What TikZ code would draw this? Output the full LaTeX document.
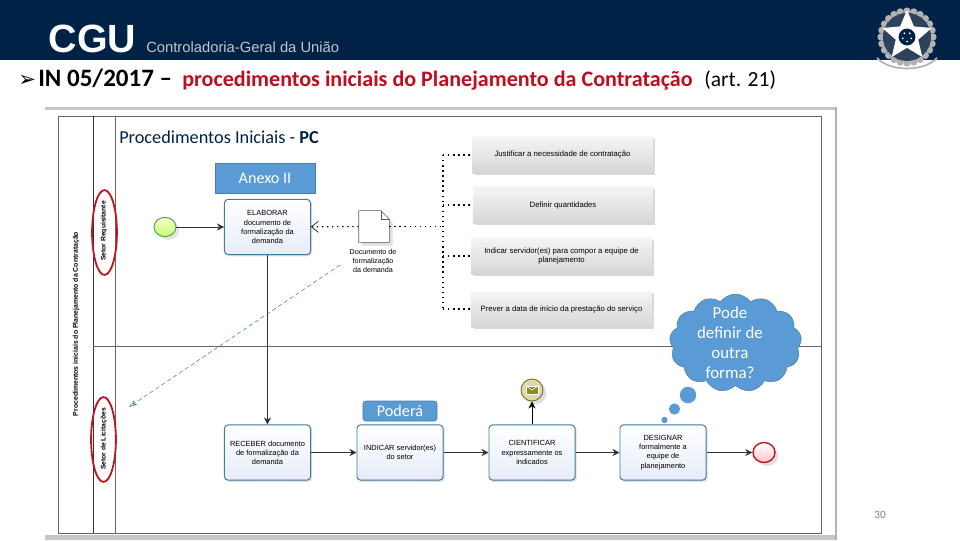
\documentclass[tikz,border=0pt]{standalone}
\usepackage{fontspec}
\setmainfont{Carlito}
\newfontfamily\taskfont{Liberation Sans}
\newfontfamily\arrowfont{DejaVu Sans}
\usetikzlibrary{arrows.meta,positioning,shapes.geometric,shapes.symbols,shadows}

\tikzset{
  taskbox/.style={draw=c3, line width=0.7pt, rounded corners=2.5pt, top color=white, bottom color=c4,
    minimum width=2.15cm, minimum height=1.38cm, align=center, inner sep=1pt,
    drop shadow={shadow xshift=1.2pt, shadow yshift=-1.2pt, opacity=0.25},
    font=\taskfont\fontsize{5.3}{6.5}\selectfont},
  notebox/.style={top color=gray!8, bottom color=gray!32, minimum width=4.5cm, minimum height=0.9cm,
    align=center, inner sep=1pt, drop shadow={shadow xshift=1.5pt, shadow yshift=-1.5pt, opacity=0.3},
    font=\taskfont\fontsize{5.5}{6.5}\selectfont},
  bluebox/.style={fill=c2, draw=c2!80!black, text=white, align=center, inner sep=0pt},
  lanemark/.style={draw=c5, line width=1.3pt, ellipse, minimum width=0.62cm, minimum height=2.12cm, inner sep=0pt},
  lanetext/.style={rotate=90, font=\taskfont\bfseries\fontsize{4.8}{6}\selectfont},
  dotline/.style={line width=0.8pt, dash pattern=on 1pt off 2.6pt},
  flow/.style={-{Stealth[length=5pt,width=5pt]}, line width=0.4pt, color=black!80}
}

\begin{document}
\begin{tikzpicture}[x=0.025cm, y=-0.025cm]
  \colorlet{c1}{white}
  \definecolor{c0}{HTML}{002247}
  \definecolor{c2}{HTML}{5B9BD5}
  \definecolor{c3}{HTML}{3F7C9E}
  \definecolor{c4}{HTML}{E6ECF8}
  \definecolor{c5}{HTML}{BE1622}
  \definecolor{c6}{HTML}{C00D1E}
  \useasboundingbox (0,0) rectangle (960,540);

  % Banner
  \fill[c0] (0,0) rectangle (960,60);
  \node[text=white, font=\taskfont\bfseries\fontsize{28}{28}\selectfont, inner sep=0pt] (cgu) at (92.5,39) {CGU};
  \node[text=gray!45, font=\taskfont\fontsize{10.5}{12}\selectfont, anchor=base west, inner sep=0pt]
    (cguname) at (146,52) {Controladoria-Geral da União};

  % Seal
  \foreach \a in {0,15,...,345} {
    \fill[gray!60] (907,37) ++(\a:26) circle (3.6);
  }
  \fill[gray!35!c0] (907,37) circle (24);
  \node[star, star points=5, star point ratio=2.2, fill=white, minimum size=1.3cm, inner sep=0pt] (sealstar) at (907,36) {};
  \node[circle, fill=c0, minimum size=0.42cm, inner sep=0pt] (sealdisc) at (907,37) {};
  \foreach \a in {90,162,234,306,18} {
    \fill[white] (907,37) ++(\a:4.5) circle (1);
  }
  \draw[gray!60, line width=1.2pt] (877,58) .. controls (890,72) and (924,72) .. (937,58);

  % Title
  \node[anchor=base west, inner sep=0pt, font=\arrowfont\fontsize{15}{16}\selectfont] (bullet) at (18,86) {➢};
  \node[anchor=base west, inner sep=0pt, font=\bfseries\fontsize{17.8}{18}\selectfont] (titlea) at (38,86) {IN 05/2017 –};
  \node[anchor=base west, inner sep=0pt, text=c6, font=\bfseries\fontsize{15.7}{18}\selectfont] (titleb) at (182,86)
    {procedimentos iniciais do Planejamento da Contratação};
  \node[anchor=base west, inner sep=0pt, font=\fontsize{15.3}{18}\selectfont] (titlec) at (704,86) {(art. 21)};

  % Panel and lanes
  \fill[gray!45] (45,107) rectangle (836,110);
  \fill[gray!45] (45,535) rectangle (836,540);
  \fill[gray!60] (835,107) rectangle (837,540);
  \draw[gray!80!black, line width=0.6pt] (58,116) rectangle (821,533);
  \draw[black!80, line width=0.5pt] (93,116) -- (93,533);
  \draw[gray!80!black, line width=0.7pt] (115,116) -- (115,533);
  \draw[gray!80!black, line width=0.7pt] (93,346) -- (821,346);

  \node[anchor=west, inner sep=0pt, text=c0, font=\fontsize{13}{14}\selectfont] (lanetitle) at (119,137)
    {Procedimentos Iniciais - \textbf{PC}};
  \node[lanetext, font=\taskfont\bfseries\fontsize{4.9}{6}\selectfont] (poolname) at (76,324)
    {Procedimentos iniciais do Planejamento da Contratação};
  \node[lanetext] (laneup) at (104,231) {Setor Requisitante};
  \node[lanetext] (lanedown) at (104,439) {Setor de Licitações};
  \node[lanemark] (markup) at (104.5,232.5) {};
  \node[lanemark] (markdown) at (103.5,439.5) {};

  % Top lane
  \node[bluebox, minimum width=2.5cm, minimum height=0.75cm, font=\fontsize{11.5}{12}\selectfont] (anexo) at (265,178) {Anexo II};
  \node[taskbox] (elaborar) at (267.5,227) {ELABORAR\\documento de\\formalização da\\demanda};
  \node[ellipse, draw=green!50!black!70, line width=0.7pt, top color=green!8!yellow!20, bottom color=green!45!yellow!55,
    minimum width=0.55cm, minimum height=0.48cm, inner sep=0pt, drop shadow={opacity=0.2}] (start) at (165,227) {};
  \draw[flow] (start) -- (elaborar);

  % Document
  \node[minimum width=0.75cm, minimum height=0.78cm, inner sep=0pt] (doc) at (374,226.5) {};
  \draw[gray!70!black, line width=0.4pt, fill=white, drop shadow={opacity=0.25}]
    (doc.north west) -- ([xshift=-6pt]doc.north east) -- ([yshift=-6pt]doc.north east) -- (doc.south east)
    -- (doc.south west) -- cycle;
  \draw[gray!70!black, line width=0.4pt] ([xshift=-6pt]doc.north east) |- ([yshift=-6pt]doc.north east);
  \node[align=center, inner sep=0pt, font=\taskfont\fontsize{5.1}{6.4}\selectfont] (doclabel) at (373,261)
    {Documento de\\formalização\\da demanda};
  \draw[dotline, -{Straight Barb[length=5pt,width=8pt,line width=0.4pt,sharp]}] (doc) -- (elaborar);

  % Notes
  \coordinate (fork) at (443,226.5);
  \draw[dotline] (doc) -- (fork);
  \foreach \nm/\x/\y/\txt in {
    just/562.5/155/Justificar a necessidade de contratação,
    quant/563/205/Definir quantidades,
    indic/561.5/256/Indicar servidor(es) para compor a equipe de\\planejamento,
    prever/561.5/309/Prever a data de início da prestação do serviço} {
    \node[notebox] (\nm) at (\x,\y) {\txt};
    \draw[dotline] (fork |- \nm) -- (\nm);
  }
  \draw[dotline] (fork |- just) -- (fork |- prever);

  % Bottom lane
  \node[taskbox] (receber) at (267.5,452.5) {RECEBER documento\\de formalização da\\demanda};
  \node[taskbox] (indicar) at (400,452.5) {INDICAR servidor(es)\\do setor};
  \node[taskbox] (cientificar) at (532,452.5) {CIENTIFICAR\\expressamente os\\indicados};
  \node[taskbox] (designar) at (663,452.5) {DESIGNAR\\formalmente a\\equipe de\\planejamento};
  \node[ellipse, draw=c5, line width=1pt, top color=white, bottom color=red!22, minimum width=0.55cm, minimum height=0.5cm,
    inner sep=0pt, drop shadow={opacity=0.25}] (finish) at (764,452.5) {};
  \node[circle, draw=olive!70!black, line width=0.6pt, fill=yellow!45!gray!55, minimum size=0.55cm, inner sep=0pt,
    drop shadow={opacity=0.25}] (msg) at (532,390) {};
  \node[draw=white, fill=olive!70!gray, minimum width=0.3cm, minimum height=0.2cm, inner sep=0pt] (letter) at (532,390) {};
  \draw[white, line width=0.4pt] (letter.north west) -- (letter.center) -- (letter.north east);

  \draw[flow] (elaborar) -- (receber);
  \draw[flow] (receber) -- (indicar);
  \draw[flow] (indicar) -- (cientificar);
  \draw[flow] (cientificar) -- (designar);
  \draw[flow] (designar) -- (finish);
  \draw[flow, line width=0.7pt, color=black] (cientificar) -- (msg);

  \node[bluebox, rounded corners=2pt, minimum width=1.85cm, minimum height=0.5cm, font=\fontsize{11.5}{12}\selectfont] (podera) at (400,411) {Poderá};

  % Free arrow
  \coordinate (linkfrom) at (340,265);
  \coordinate (linkto) at (129,407);
  \draw[c3!70!gray, line width=0.4pt, densely dashed, -{Stealth[length=6pt,width=4pt,open]}] (linkfrom) -- (linkto);

  % Thought
  \node[cloud, cloud puffs=13, cloud puff arc=110, aspect=1.3, draw=c3, line width=0.3pt, fill=c2,
    minimum width=3.3cm, minimum height=2.45cm, inner sep=0pt] (thought) at (735.5,343) {};
  \node[text=white, align=center, inner sep=0pt, font=\fontsize{12}{14.2}\selectfont] (thoughttext) at (730,342.5)
    {Pode\\definir de\\outra\\forma?};
  \foreach \nm/\x/\y/\r in {bubblea/688/395/0.41, bubbleb/674.5/409/0.28, bubblec/664.5/420/0.16} {
    \node[circle, fill=c2, minimum size=\r cm, inner sep=0pt] (\nm) at (\x,\y) {};
  }

  \node[text=gray, inner sep=0pt, font=\fontsize{8}{10}\selectfont] (pagenum) at (880,515) {30};
\end{tikzpicture}
\end{document}
